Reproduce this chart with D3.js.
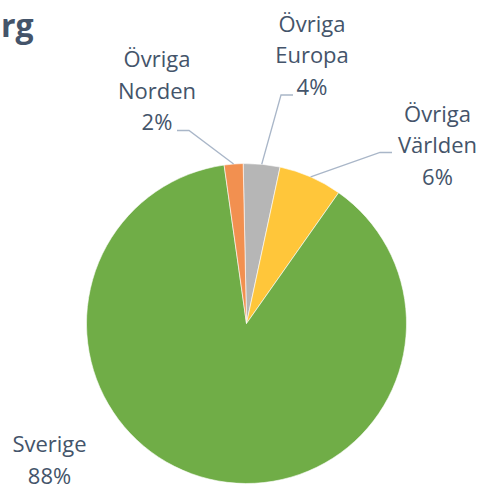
<!DOCTYPE html>
<html>
<head>
<meta charset="utf-8">
<script src="https://cdn.jsdelivr.net/npm/d3@7"></script>
<style>
  html, body { margin: 0; padding: 0; background: #fff; }
  svg { display: block; }
</style>
</head>
<body>
<svg id="chart" width="483" height="488"></svg>
<script>
// ---- data ----
const categories = ["Övriga Europa", "Övriga Världen", "Sverige", "Övriga Norden"];
const labelLines = [["Övriga", "Europa"], ["Övriga", "Världen"], ["Sverige"], ["Övriga", "Norden"]];
const values = [3.7, 6.4, 88.0, 1.9];
const colors = ["#A5A5A5", "#FFC000", "#70AD47", "#ED7D31"];
const lightColors = ["#B6B6B6", "#FFC63A", "#70AD47", "#F29050"];
const darkColors = ["#A3A3A3", "#F4BE00", "#70AD47", "#EB7A28"];

// ---- layout ----
const W = 483, H = 488;
const cx = 246.5, cy = 323.5, R = 160;
const startDeg = -1.2;
const textColor = "#44546A";
const leaderColor = "#A9B6C8";
const lineH = 31.5;
const fontSize = 22;
// label anchor (centre x, first baseline y), elbow point and line end point
const labelPos = [
  { x: 312, y: 31.5, elbow: [281, 95], end: [293, 95] },
  { x: 437.5, y: 121.5, elbow: [380, 152.5], end: [392, 152.5] },
  { x: 49.5, y: 452, elbow: null, end: null },
  { x: 157, y: 67, elbow: [189, 130.5], end: [177, 130.5] }
];

const svg = d3.select("#chart");
const defs = svg.append("defs");
const font = "'Open Sans', 'DejaVu Sans', sans-serif";

// title fragment (cut off at the left edge)
svg.append("text")
  .attr("x", 1).attr("y", 37)
  .attr("font-family", font)
  .attr("font-weight", 700)
  .attr("font-size", 32)
  .attr("fill", textColor)
  .text("rg");

const pie = d3.pie()
  .sort(null)
  .value(d => d)
  .startAngle(startDeg * Math.PI / 180)
  .endAngle((startDeg + 360) * Math.PI / 180);
const arcs = pie(values);
const arc = d3.arc().innerRadius(0).outerRadius(R);

arcs.forEach((a, i) => {
  const g = defs.append("linearGradient")
    .attr("id", "grad" + i)
    .attr("gradientUnits", "userSpaceOnUse")
    .attr("x1", 0).attr("y1", cy - R)
    .attr("x2", 0).attr("y2", cy);
  g.append("stop").attr("offset", "0%").attr("stop-color", lightColors[i]);
  g.append("stop").attr("offset", "100%").attr("stop-color", darkColors[i]);
});

const gPie = svg.append("g").attr("transform", `translate(${cx},${cy})`);
gPie.selectAll("path.slice")
  .data(arcs)
  .join("path")
  .attr("class", "slice")
  .attr("d", arc)
  .attr("fill", (d, i) => i === 2 ? colors[i] : `url(#grad${i})`)
  .attr("stroke", "#ffffff")
  .attr("stroke-width", 0.6);

// leader lines
arcs.forEach((a, i) => {
  const p = labelPos[i];
  if (!p.elbow) return;
  const mid = (a.startAngle + a.endAngle) / 2;
  const sx = cx + R * Math.sin(mid);
  const sy = cy - R * Math.cos(mid);
  svg.append("polyline")
    .attr("points", `${sx},${sy} ${p.elbow[0]},${p.elbow[1]} ${p.end[0]},${p.end[1]}`)
    .attr("fill", "none")
    .attr("stroke", leaderColor)
    .attr("stroke-width", 1.3);
});

// labels
arcs.forEach((a, i) => {
  const p = labelPos[i];
  const lines = labelLines[i].concat([Math.round(a.value) + "%"]);
  const t = svg.append("text")
    .attr("font-family", font)
    .attr("font-size", fontSize)
    .attr("fill", textColor)
    .attr("text-anchor", "middle");
  lines.forEach((ln, k) => {
    t.append("tspan").attr("x", p.x).attr("y", p.y + k * lineH).text(ln);
  });
});
</script>
</body>
</html>
